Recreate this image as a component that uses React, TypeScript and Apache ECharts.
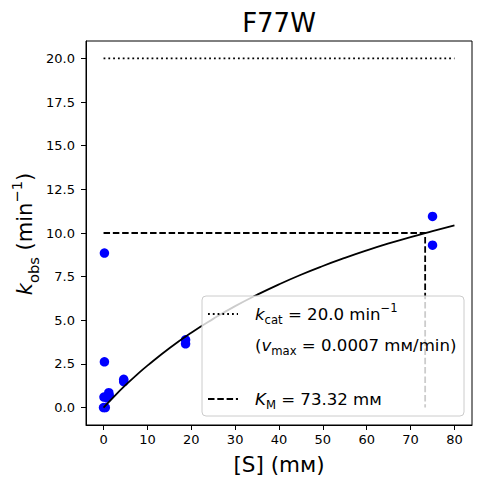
import React, { useEffect, useRef } from "react";
import * as echarts from "echarts";

const substrate = [0, 0.4, 0.1, 0.8, 1.2, 1.3, 0.2, 0.2, 4.6, 4.6, 18.7, 18.7, 75, 75];
const kobs = [0, 0, 0.6, 0.55, 0.85, 0.7, 2.62, 8.85, 1.62, 1.48, 3.88, 3.65, 10.95, 9.3];

// Fitted curve values
const fitS = [0, 2.5, 5, 7.5, 10, 15, 20, 25, 30, 35, 40, 45, 50, 55, 60, 65, 70, 75, 80];
const fitK = [0, 0.66, 1.28, 1.86, 2.4, 3.4, 4.29, 5.08, 5.81, 6.46, 7.06, 7.61, 8.11, 8.57, 9.0, 9.4, 9.77, 10.11, 10.44];

// Fit parameters
const kcat = 20.0;
const km = 73.32;
const halfKcat = 10.0;
const sMax = 80;

// Tick labels
const xTicks = [0, 10, 20, 30, 40, 50, 60, 70, 80];
const yTicks = [0, 2.5, 5, 7.5, 10, 12.5, 15, 17.5, 20];

const FONT = "DejaVu Sans";

export default function App() {
  const ref = useRef<HTMLDivElement>(null);
  useEffect(() => {
    if (!ref.current) return;
    const chart = echarts.init(ref.current, null, { renderer: "svg" });
    const scatterData = substrate.map((s, i) => [s, kobs[i]]);
    const curveData = fitS.map((s, i) => [s, fitK[i]]);

    const mainRich = (size: number) => ({
      i: { fontSize: size, fontStyle: "italic", fontFamily: FONT, fill: "#000", lineHeight: size * 1.5, verticalAlign: "middle" },
      n: { fontSize: size, fontFamily: FONT, fill: "#000", lineHeight: size * 1.5, verticalAlign: "middle" },
      sub: { fontSize: size * 0.7, fontFamily: FONT, fill: "#000", lineHeight: size * 0.85, verticalAlign: "bottom" },
      sup: { fontSize: size * 0.7, fontFamily: FONT, fill: "#000", lineHeight: size * 0.95, verticalAlign: "top" },
    });

    chart.setOption({
      animation: false,
      backgroundColor: "#fff",
      grid: {
        left: 86,
        right: 10,
        top: 41,
        bottom: 59,
        show: true,
        borderColor: "#000",
        borderWidth: 1,
        backgroundColor: "transparent",
      },
      xAxis: {
        type: "value",
        min: -4,
        max: 84,
        splitLine: { show: false },
        axisLine: { show: true, onZero: false, lineStyle: { color: "#000", width: 1 } },
        axisTick: { show: true, customValues: xTicks, length: 5, lineStyle: { color: "#000", width: 1 } },
        axisLabel: {
          customValues: xTicks,
          color: "#000",
          fontSize: 13,
          fontFamily: FONT,
          margin: 8,
        },
      },
      yAxis: {
        type: "value",
        min: -1,
        max: 21,
        splitLine: { show: false },
        axisLine: { show: true, onZero: false, lineStyle: { color: "#000", width: 1 } },
        axisTick: { show: true, customValues: yTicks, length: 5, lineStyle: { color: "#000", width: 1 } },
        axisLabel: {
          customValues: yTicks,
          color: "#000",
          fontSize: 13,
          fontFamily: FONT,
          margin: 11,
          formatter: (v: number) => v.toFixed(1),
        },
      },
      series: [
        {
          type: "scatter",
          data: scatterData,
          symbolSize: 9.5,
          itemStyle: { color: "#0000ff", opacity: 1 },
          z: 2,
        },
        {
          type: "line",
          data: curveData,
          smooth: true,
          showSymbol: false,
          symbol: "none",
          lineStyle: { color: "#000", width: 1.8 },
          z: 3,
        },
        {
          type: "line",
          data: [[0, kcat], [sMax, kcat]],
          showSymbol: false,
          symbol: "none",
          lineStyle: { color: "#000", width: 1.8, type: [1.8, 3] },
          z: 3,
        },
        {
          type: "line",
          data: [[0, halfKcat], [km, halfKcat], [km, 0]],
          showSymbol: false,
          symbol: "none",
          lineStyle: { color: "#000", width: 1.8, type: [6.5, 2.8] },
          z: 3,
        },
      ],
      graphic: [
        {
          type: "text",
          z: 100,
          style: {
            x: 279,
            y: 23,
            text: "F77W",
            fontSize: 26,
            fontFamily: FONT,
            fill: "#000",
            align: "center",
            verticalAlign: "middle",
          },
        },
        {
          type: "text",
          z: 100,
          style: {
            x: 279,
            y: 464,
            text: "[S] (mᴍ)",
            fontSize: 21.5,
            fontFamily: FONT,
            fill: "#000",
            align: "center",
            verticalAlign: "middle",
          },
        },
        {
          type: "text",
          z: 100,
          x: 25,
          y: 234,
          rotation: Math.PI / 2,
          style: {
            x: 0,
            y: 0,
            text: "{i|k}{sub|obs}{n| (min}{sup|−1}{n|)}",
            align: "center",
            verticalAlign: "middle",
            rich: mainRich(21),
          },
        },
        {
          type: "rect",
          z: 100,
          shape: { x: 202, y: 296, width: 262, height: 120, r: 4 },
          style: { fill: "rgba(255,255,255,0.8)", stroke: "#cccccc", lineWidth: 1 },
        },
        {
          type: "line",
          z: 101,
          shape: { x1: 208, y1: 314, x2: 238, y2: 314 },
          style: { stroke: "#000", lineWidth: 1.8, lineDash: [1.8, 3] },
        },
        {
          type: "text",
          z: 101,
          style: {
            x: 255,
            y: 314,
            text: "{i|k}{sub|cat}{n| = 20.0 min}{sup|−1}",
            align: "left",
            verticalAlign: "middle",
            rich: mainRich(16.6),
          },
        },
        {
          type: "text",
          z: 101,
          style: {
            x: 255,
            y: 345,
            text: "{n|(}{i|v}{sub|max}{n| = 0.0007 mᴍ/min)}",
            align: "left",
            verticalAlign: "middle",
            rich: mainRich(16.6),
          },
        },
        {
          type: "line",
          z: 101,
          shape: { x1: 208, y1: 399, x2: 238, y2: 399 },
          style: { stroke: "#000", lineWidth: 1.8, lineDash: [6.5, 2.8] },
        },
        {
          type: "text",
          z: 101,
          style: {
            x: 255,
            y: 399,
            text: "{i|K}{sub|M}{n| = 73.32 mᴍ}",
            align: "left",
            verticalAlign: "middle",
            rich: mainRich(16.6),
          },
        },
      ],
    });
    return () => chart.dispose();
  }, []);
  return (
    <div
      ref={ref}
      style={{ position: "absolute", left: 0, top: 0, width: 482, height: 484 }}
    />
  );
}
